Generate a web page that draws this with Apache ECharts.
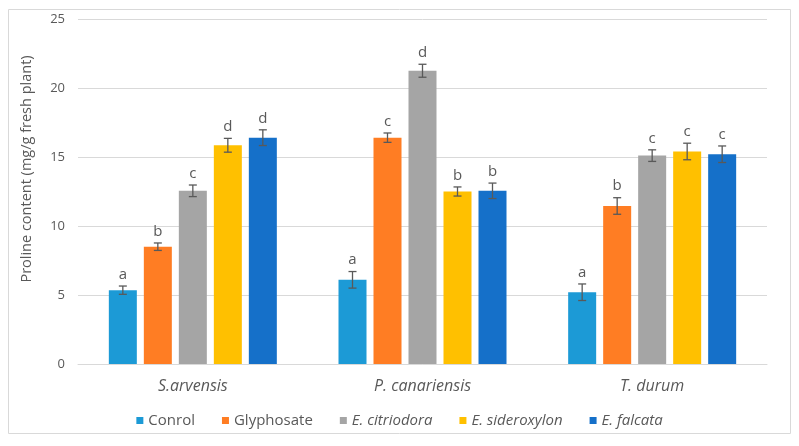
<!DOCTYPE html>
<html>
<head>
<meta charset="utf-8">
<script src="https://cdn.jsdelivr.net/npm/echarts@6/dist/echarts.min.js"></script>
<style>
html,body{margin:0;padding:0;background:#fff;}
#chart{width:799px;height:446px;}
</style>
</head>
<body>
<div id="chart"></div>
<script>
var categories = ['S.arvensis', 'P. canariensis', 'T. durum'];
var treatments = ['Conrol', 'Glyphosate', 'E. citriodora', 'E. sideroxylon', 'E. falcata'];
var yTicks = [0, 5, 10, 15, 20, 25];

// means per treatment across [S.arvensis, P. canariensis, T. durum]
var controlMeans     = [5.35, 6.1, 5.2];
var glyphosateMeans  = [8.5, 16.4, 11.45];
var citriodoraMeans  = [12.55, 21.25, 15.1];
var sideroxylonMeans = [15.85, 12.5, 15.4];
var falcataMeans     = [16.4, 12.55, 15.2];

// error bar half-lengths
var controlErr     = [0.3, 0.6, 0.6];
var glyphosateErr  = [0.27, 0.34, 0.6];
var citriodoraErr  = [0.42, 0.47, 0.42];
var sideroxylonErr = [0.5, 0.33, 0.6];
var falcataErr     = [0.57, 0.56, 0.6];

// significance letters
var controlLetters     = ['a', 'a', 'a'];
var glyphosateLetters  = ['b', 'c', 'b'];
var citriodoraLetters  = ['c', 'd', 'c'];
var sideroxylonLetters = ['d', 'b', 'c'];
var falcataLetters     = ['d', 'b', 'c'];

var meansList = [controlMeans, glyphosateMeans, citriodoraMeans, sideroxylonMeans, falcataMeans];
var errList = [controlErr, glyphosateErr, citriodoraErr, sideroxylonErr, falcataErr];
var lettersList = [controlLetters, glyphosateLetters, citriodoraLetters, sideroxylonLetters, falcataLetters];
var colors = ['#1C9AD6', '#FF7D23', '#A5A5A5', '#FFC000', '#1570C9'];

var BAR_W = 28, BAR_GAP = 7;
var textColor = '#595959';
var font = '"Open Sans", "Noto Sans", sans-serif';

var series = [];
treatments.forEach(function (name, i) {
  series.push({
    name: name,
    type: 'bar',
    barWidth: BAR_W,
    barGap: (BAR_GAP / BAR_W * 100) + '%',
    itemStyle: { color: colors[i] },
    data: meansList[i],
    z: 2
  });
});
treatments.forEach(function (name, i) {
  var data = meansList[i].map(function (v, c) { return [c, v, errList[i][c], lettersList[i][c]]; });
  series.push({
    type: 'custom',
    name: name + '_err',
    z: 5,
    silent: true,
    encode: { x: 0, y: 1 },
    data: data,
    renderItem: function (params, api) {
      var c = api.value(0), v = api.value(1), e = api.value(2);
      var letter = data[params.dataIndex][3];
      var off = (i - 2) * (BAR_W + BAR_GAP);
      var top = api.coord([c, v + e]);
      var bot = api.coord([c, v - e]);
      var x = top[0] + off;
      var cap = 4;
      var st = { stroke: '#595959', lineWidth: 1.3 };
      return {
        type: 'group',
        children: [
          { type: 'line', shape: { x1: x, y1: top[1], x2: x, y2: bot[1] }, style: st },
          { type: 'line', shape: { x1: x - cap, y1: top[1], x2: x + cap, y2: top[1] }, style: st },
          { type: 'line', shape: { x1: x - cap, y1: bot[1], x2: x + cap, y2: bot[1] }, style: st },
          { type: 'text', style: { text: letter, x: x, y: top[1] - 4, align: 'center', verticalAlign: 'bottom',
            fill: textColor, font: '15px ' + font } }
        ]
      };
    }
  });
});

var chart = echarts.init(document.getElementById('chart'));
chart.setOption({
  animation: false,
  textStyle: { fontFamily: font },
  graphic: [{
    type: 'rect', shape: { x: 8.5, y: 9.5, width: 782, height: 424 },
    style: { fill: 'none', stroke: '#D9D9D9', lineWidth: 1 }, z: -1
  }],
  grid: { left: 78, right: 32, top: 19, bottom: 82 },
  legend: {
    top: 408,
    left: 'center',
    icon: 'rect',
    itemWidth: 7,
    itemHeight: 7,
    itemGap: 27,
    textStyle: { color: textColor, fontSize: 15, fontFamily: font },
    data: treatments.map(function (t, i) {
      return i >= 2 ? { name: t, textStyle: { fontStyle: 'italic' } } : { name: t };
    })
  },
  xAxis: {
    type: 'category',
    data: categories,
    axisLine: { lineStyle: { color: '#D9D9D9' } },
    axisTick: { show: false },
    axisLabel: { color: textColor, fontSize: 16, fontStyle: 'italic', margin: 14 }
  },
  yAxis: {
    type: 'value',
    min: yTicks[0],
    max: yTicks[yTicks.length - 1],
    interval: yTicks[1] - yTicks[0],
    name: 'Proline content (mg/g fresh plant)',
    nameLocation: 'middle',
    nameGap: 44,
    nameTextStyle: { color: textColor, fontSize: 14.5, padding: [0, 0, 0, 45] },
    axisLine: { show: false },
    axisTick: { show: false },
    axisLabel: { color: textColor, fontSize: 13, margin: 13 },
    splitLine: { lineStyle: { color: '#D9D9D9' } }
  },
  series: series
});
</script>
</body>
</html>
